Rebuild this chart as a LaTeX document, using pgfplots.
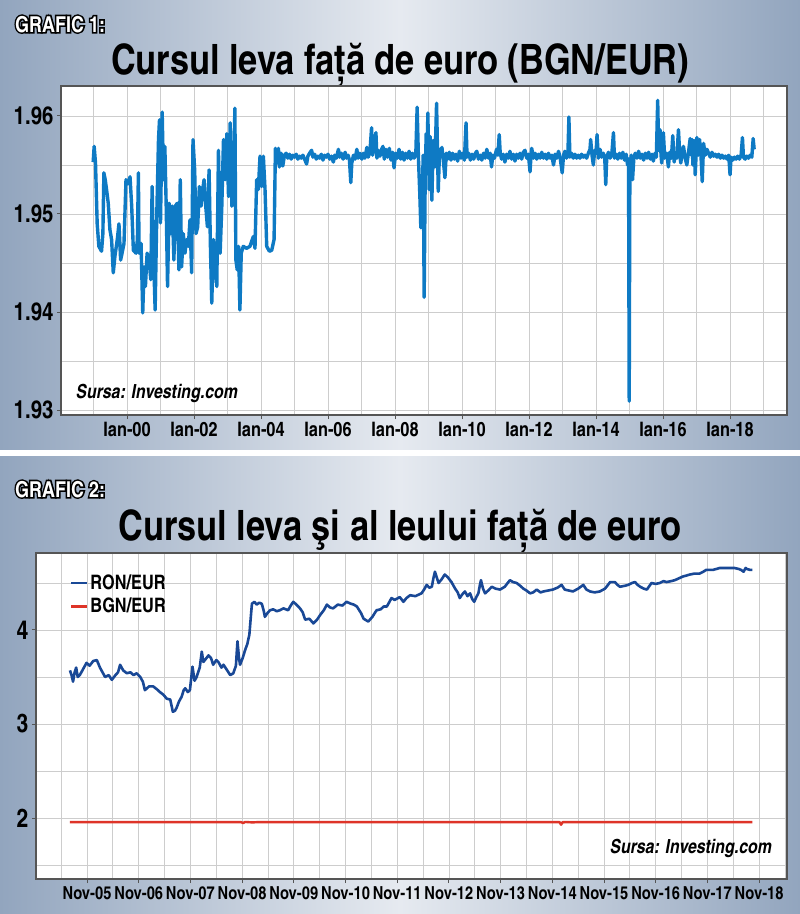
\documentclass[border=0pt]{standalone}
\usepackage{fontspec}
\setmainfont{texgyreheroscn}[Extension=.otf, UprightFont=*-regular, BoldFont=*-bold, ItalicFont=*-italic, BoldItalicFont=*-bolditalic]
\newfontface\grafout{texgyreheroscn-bold}[Extension=.otf, FakeBold=14]
\newfontface\grafin{texgyreheroscn-bold}[Extension=.otf]
\usepackage{pgfplots}
\pgfplotsset{compat=1.18}

\definecolor{bgedge}{RGB}{146,165,190}
\definecolor{bgmid}{RGB}{230,234,240}
\definecolor{bgnblue}{RGB}{14,122,196}
\definecolor{ronblue}{RGB}{25,72,150}
\definecolor{bgnred}{RGB}{222,52,40}
\definecolor{gridgray}{RGB}{205,205,205}
\definecolor{framegray}{RGB}{85,85,85}

\newcommand{\fs}[1]{\fontsize{#1}{#1}\selectfont}

% BGN/EUR, 1999-2018
\pgfplotstableread{
t v
1998.99 1.9553
1999.02 1.9569
1999.06 1.9552
1999.11 1.9490
1999.16 1.9467
1999.24 1.9462
1999.28 1.9480
1999.31 1.9542
1999.35 1.9535
1999.39 1.9525
1999.44 1.9511
1999.49 1.9484
1999.54 1.9474
1999.59 1.9440
1999.64 1.9457
1999.71 1.9474
1999.76 1.9490
1999.81 1.9453
1999.87 1.9463
1999.91 1.9470
1999.97 1.9535
2000.04 1.9531
2000.09 1.9538
2000.14 1.9508
2000.19 1.9463
2000.27 1.9460
2000.31 1.9474
2000.34 1.9542
2000.36 1.9460
2000.42 1.9470
2000.47 1.9399
2000.51 1.9446
2000.55 1.9426
2000.60 1.9460
2000.66 1.9453
2000.71 1.9433
2000.75 1.9528
2000.79 1.9460
2000.84 1.9402
2000.89 1.9501
2000.94 1.9576
2000.97 1.9596
2001.00 1.9491
2001.05 1.9604
2001.09 1.9535
2001.13 1.9569
2001.17 1.9508
2001.21 1.9426
2001.26 1.9511
2001.31 1.9480
2001.35 1.9508
2001.40 1.9453
2001.44 1.9508
2001.50 1.9511
2001.55 1.9443
2001.59 1.9535
2001.63 1.9446
2001.68 1.9480
2001.73 1.9460
2001.78 1.9474
2001.83 1.9467
2001.88 1.9494
2001.93 1.9440
2001.97 1.9576
2002.02 1.9545
2002.06 1.9480
2002.11 1.9487
2002.16 1.9528
2002.21 1.9508
2002.26 1.9525
2002.30 1.9535
2002.35 1.9508
2002.40 1.9487
2002.45 1.9545
2002.49 1.9467
2002.53 1.9409
2002.58 1.9474
2002.63 1.9446
2002.68 1.9426
2002.73 1.9565
2002.78 1.9460
2002.83 1.9508
2002.88 1.9576
2002.93 1.9535
2002.98 1.9582
2003.03 1.9518
2003.08 1.9593
2003.13 1.9508
2003.17 1.9518
2003.22 1.9608
2003.25 1.9453
2003.29 1.9443
2003.33 1.9467
2003.37 1.9402
2003.41 1.9460
2003.47 1.9467
2003.57 1.9465
2003.67 1.9467
2003.77 1.9477
2003.82 1.9465
2003.87 1.9535
2003.92 1.9525
2003.97 1.9559
2004.02 1.9528
2004.07 1.9559
2004.12 1.9525
2004.17 1.9467
2004.25 1.9462
2004.32 1.9463
2004.39 1.9474
2004.43 1.9567
2004.49 1.9552
2004.52 1.9567
2004.55 1.9548
2004.60 1.9562
2004.65 1.9549
2004.70 1.9560
2004.75 1.9562
2004.80 1.9557
2004.85 1.9561
2004.90 1.9556
2004.95 1.9560
2005.00 1.9558
2005.05 1.9561
2005.10 1.9556
2005.15 1.9559
2005.20 1.9557
2005.25 1.9560
2005.30 1.9556
2005.36 1.9551
2005.40 1.9559
2005.45 1.9562
2005.51 1.9565
2005.55 1.9558
2005.60 1.9561
2005.65 1.9556
2005.70 1.9559
2005.75 1.9557
2005.80 1.9561
2005.85 1.9555
2005.90 1.9560
2005.95 1.9558
2006.00 1.9561
2006.05 1.9556
2006.10 1.9559
2006.16 1.9553
2006.20 1.9560
2006.25 1.9557
2006.31 1.9566
2006.35 1.9558
2006.40 1.9562
2006.45 1.9556
2006.51 1.9563
2006.55 1.9557
2006.60 1.9560
2006.64 1.9555
2006.68 1.9532
2006.71 1.9552
2006.76 1.9560
2006.81 1.9556
2006.86 1.9566
2006.90 1.9557
2006.95 1.9562
2007.01 1.9556
2007.05 1.9562
2007.10 1.9557
2007.16 1.9568
2007.20 1.9558
2007.25 1.9563
2007.30 1.9588
2007.33 1.9560
2007.37 1.9566
2007.43 1.9583
2007.46 1.9557
2007.50 1.9565
2007.55 1.9559
2007.60 1.9566
2007.64 1.9569
2007.68 1.9556
2007.73 1.9566
2007.78 1.9558
2007.83 1.9567
2007.88 1.9555
2007.93 1.9563
2007.97 1.9547
2008.02 1.9562
2008.07 1.9557
2008.12 1.9566
2008.17 1.9556
2008.22 1.9563
2008.27 1.9555
2008.32 1.9562
2008.37 1.9557
2008.42 1.9564
2008.47 1.9556
2008.52 1.9562
2008.57 1.9557
2008.62 1.9561
2008.66 1.9609
2008.70 1.9556
2008.74 1.9520
2008.77 1.9486
2008.80 1.9494
2008.84 1.9560
2008.87 1.9415
2008.90 1.9535
2008.93 1.9582
2008.96 1.9565
2008.98 1.9603
2009.02 1.9525
2009.05 1.9579
2009.10 1.9514
2009.14 1.9575
2009.19 1.9548
2009.24 1.9613
2009.27 1.9562
2009.29 1.9523
2009.33 1.9566
2009.36 1.9558
2009.40 1.9568
2009.44 1.9555
2009.49 1.9537
2009.53 1.9562
2009.57 1.9556
2009.62 1.9563
2009.67 1.9555
2009.72 1.9562
2009.77 1.9556
2009.82 1.9561
2009.87 1.9554
2009.92 1.9564
2009.97 1.9557
2010.02 1.9562
2010.07 1.9555
2010.12 1.9593
2010.15 1.9558
2010.20 1.9562
2010.25 1.9555
2010.30 1.9561
2010.35 1.9556
2010.40 1.9562
2010.44 1.9564
2010.49 1.9556
2010.54 1.9560
2010.59 1.9555
2010.64 1.9562
2010.69 1.9557
2010.74 1.9566
2010.79 1.9557
2010.84 1.9562
2010.88 1.9548
2010.92 1.9560
2010.97 1.9557
2011.03 1.9566
2011.07 1.9560
2011.11 1.9581
2011.14 1.9562
2011.18 1.9556
2011.23 1.9561
2011.28 1.9553
2011.33 1.9561
2011.38 1.9557
2011.43 1.9564
2011.48 1.9556
2011.53 1.9561
2011.58 1.9554
2011.63 1.9561
2011.68 1.9557
2011.73 1.9562
2011.78 1.9556
2011.83 1.9563
2011.88 1.9565
2011.93 1.9557
2011.98 1.9561
2012.03 1.9543
2012.06 1.9560
2012.08 1.9567
2012.13 1.9557
2012.18 1.9562
2012.23 1.9556
2012.28 1.9561
2012.33 1.9557
2012.38 1.9563
2012.43 1.9557
2012.48 1.9561
2012.53 1.9556
2012.58 1.9562
2012.63 1.9557
2012.68 1.9560
2012.73 1.9550
2012.78 1.9561
2012.83 1.9557
2012.88 1.9564
2012.93 1.9557
2012.99 1.9542
2013.03 1.9560
2013.07 1.9564
2013.12 1.9557
2013.16 1.9561
2013.19 1.9599
2013.22 1.9558
2013.27 1.9562
2013.32 1.9557
2013.37 1.9561
2013.42 1.9557
2013.47 1.9560
2013.52 1.9557
2013.57 1.9561
2013.62 1.9558
2013.67 1.9560
2013.72 1.9557
2013.77 1.9562
2013.82 1.9566
2013.84 1.9576
2013.88 1.9560
2013.92 1.9550
2013.96 1.9565
2014.00 1.9562
2014.03 1.9581
2014.07 1.9557
2014.12 1.9566
2014.17 1.9558
2014.22 1.9562
2014.26 1.9557
2014.29 1.9530
2014.32 1.9558
2014.37 1.9563
2014.42 1.9557
2014.47 1.9561
2014.52 1.9583
2014.55 1.9557
2014.60 1.9561
2014.65 1.9556
2014.70 1.9562
2014.75 1.9557
2014.80 1.9563
2014.85 1.9555
2014.90 1.9561
2014.94 1.9550
2014.97 1.9556
2014.99 1.9309
2015.01 1.9548
2015.05 1.9560
2015.09 1.9535
2015.13 1.9558
2015.17 1.9562
2015.22 1.9557
2015.27 1.9564
2015.32 1.9557
2015.37 1.9561
2015.42 1.9555
2015.47 1.9562
2015.52 1.9557
2015.57 1.9563
2015.62 1.9556
2015.67 1.9561
2015.71 1.9554
2015.76 1.9562
2015.80 1.9558
2015.84 1.9616
2015.87 1.9565
2015.91 1.9586
2015.94 1.9560
2015.96 1.9552
2016.01 1.9583
2016.05 1.9557
2016.11 1.9562
2016.16 1.9548
2016.20 1.9563
2016.25 1.9557
2016.29 1.9580
2016.33 1.9553
2016.37 1.9561
2016.41 1.9557
2016.46 1.9586
2016.50 1.9560
2016.53 1.9552
2016.57 1.9563
2016.61 1.9569
2016.66 1.9557
2016.71 1.9550
2016.76 1.9563
2016.81 1.9577
2016.84 1.9560
2016.87 1.9576
2016.89 1.9550
2016.93 1.9575
2016.96 1.9540
2017.01 1.9578
2017.05 1.9560
2017.09 1.9576
2017.13 1.9561
2017.17 1.9533
2017.21 1.9572
2017.26 1.9560
2017.31 1.9566
2017.36 1.9562
2017.41 1.9558
2017.46 1.9563
2017.51 1.9559
2017.56 1.9561
2017.61 1.9558
2017.66 1.9561
2017.71 1.9557
2017.76 1.9560
2017.81 1.9557
2017.86 1.9559
2017.91 1.9556
2017.96 1.9560
2018.00 1.9540
2018.03 1.9558
2018.08 1.9555
2018.13 1.9558
2018.18 1.9556
2018.23 1.9559
2018.28 1.9556
2018.33 1.9560
2018.37 1.9578
2018.40 1.9558
2018.45 1.9556
2018.50 1.9559
2018.55 1.9557
2018.60 1.9560
2018.65 1.9558
2018.69 1.9577
2018.72 1.9566
}\bgneur

% RON/EUR, x = years (Nov-05 = 5)
\pgfplotstableread{
t v
4.67 3.57
4.70 3.52
4.73 3.45
4.76 3.55
4.79 3.60
4.82 3.50
4.86 3.52
4.92 3.58
4.99 3.65
5.05 3.62
5.12 3.67
5.19 3.68
5.25 3.60
5.30 3.55
5.35 3.50
5.42 3.52
5.48 3.47
5.55 3.52
5.60 3.55
5.64 3.63
5.70 3.57
5.77 3.54
5.84 3.55
5.90 3.52
5.96 3.54
6.03 3.50
6.08 3.45
6.12 3.36
6.20 3.40
6.28 3.40
6.35 3.37
6.41 3.34
6.48 3.31
6.54 3.27
6.61 3.26
6.66 3.13
6.70 3.14
6.73 3.17
6.78 3.24
6.83 3.29
6.87 3.36
6.90 3.38
6.95 3.34
6.99 3.36
7.04 3.61
7.08 3.46
7.12 3.50
7.18 3.60
7.22 3.77
7.25 3.66
7.28 3.68
7.35 3.73
7.40 3.70
7.44 3.63
7.50 3.68
7.54 3.66
7.60 3.60
7.64 3.63
7.70 3.58
7.77 3.52
7.83 3.54
7.88 3.62
7.91 3.88
7.94 3.70
7.96 3.63
8.01 3.70
8.06 3.79
8.10 3.85
8.14 3.95
8.17 4.15
8.19 4.28
8.24 4.30
8.28 4.27
8.33 4.29
8.38 4.28
8.42 4.20
8.44 4.14
8.49 4.18
8.54 4.21
8.60 4.22
8.67 4.20
8.73 4.21
8.80 4.23
8.89 4.21
8.94 4.26
8.99 4.30
9.05 4.27
9.12 4.23
9.17 4.19
9.22 4.11
9.30 4.12
9.38 4.07
9.45 4.11
9.51 4.16
9.58 4.21
9.64 4.27
9.70 4.24
9.76 4.23
9.85 4.27
9.94 4.26
10.02 4.30
10.10 4.28
10.16 4.27
10.22 4.25
10.30 4.18
10.35 4.12
10.44 4.09
10.52 4.14
10.60 4.21
10.68 4.22
10.74 4.25
10.80 4.25
10.85 4.30
10.89 4.34
10.95 4.32
11.05 4.35
11.12 4.30
11.18 4.34
11.25 4.37
11.35 4.36
11.47 4.39
11.52 4.43
11.57 4.48
11.62 4.45
11.67 4.46
11.70 4.55
11.73 4.62
11.77 4.55
11.80 4.50
11.86 4.54
11.92 4.59
11.98 4.56
12.05 4.51
12.12 4.44
12.17 4.40
12.21 4.34
12.26 4.38
12.31 4.41
12.36 4.36
12.41 4.39
12.45 4.33
12.49 4.30
12.53 4.35
12.57 4.39
12.60 4.48
12.62 4.53
12.66 4.44
12.70 4.39
12.76 4.42
12.83 4.46
12.90 4.44
12.99 4.43
13.08 4.46
13.18 4.53
13.24 4.51
13.31 4.50
13.38 4.47
13.44 4.44
13.50 4.42
13.57 4.39
13.63 4.40
13.70 4.43
13.77 4.40
13.83 4.41
13.92 4.42
14.01 4.43
14.10 4.45
14.18 4.48
14.24 4.43
14.32 4.42
14.40 4.41
14.50 4.44
14.60 4.48
14.66 4.43
14.73 4.41
14.82 4.40
14.92 4.41
15.02 4.44
15.12 4.51
15.21 4.51
15.26 4.48
15.31 4.46
15.40 4.47
15.47 4.48
15.54 4.50
15.60 4.51
15.65 4.48
15.70 4.46
15.77 4.44
15.83 4.43
15.88 4.47
15.92 4.50
16.00 4.49
16.08 4.50
16.15 4.52
16.21 4.51
16.30 4.52
16.37 4.53
16.45 4.55
16.53 4.57
16.60 4.58
16.66 4.59
16.75 4.60
16.85 4.60
16.92 4.62
16.98 4.64
17.05 4.64
17.11 4.64
17.18 4.65
17.24 4.66
17.34 4.66
17.44 4.66
17.52 4.66
17.60 4.65
17.65 4.64
17.70 4.62
17.74 4.66
17.76 4.65
17.82 4.64
17.87 4.64
}\roneur

\pgfplotstableread{
t v
4.67 1.956
7.98 1.956
8.02 1.947
8.06 1.958
8.20 1.953
8.30 1.956
14.14 1.956
14.17 1.928
14.20 1.956
17.87 1.956
}\bgnsmall

\pgfplotsset{
  panel/.style={
    scale only axis,
    axis background/.style={fill=white},
    axis line style={framegray, line width=1.2bp},
    grid=both,
    major grid style={gridgray, line width=0.8bp},
    minor grid style={gridgray, line width=0.8bp},
    tick align=outside,
    major tick length=4bp,
    minor tick length=0pt,
    tick style={framegray, line width=1bp},
    xtick pos=bottom, ytick pos=left,
    /pgf/number format/assume math mode=true,
  }
}

\begin{document}
\begin{tikzpicture}
\useasboundingbox (0,0) rectangle (800bp,-914bp);
\shade[left color=bgedge, right color=bgedge, middle color=bgmid] (0,0) rectangle (800bp,-450bp);
\fill[white] (0,-450bp) rectangle (800bp,-456bp);
\shade[left color=bgedge, right color=bgedge, middle color=bgmid] (0,-456bp) rectangle (800bp,-914bp);

% headings: white text with a black outline
\foreach \hy/\hn in {-32/1,-497/2} {
  \node[anchor=base west, inner sep=0, font=\grafout\fs{22}] at (15bp,\hy bp) {GRAFIC \hn:};
  \node[anchor=base west, inner sep=0, font=\grafin\fs{22}, text=white] at (15bp,\hy bp) {GRAFIC \hn:};
}
\node[anchor=base, inner sep=0, font=\bfseries\fs{42}] at (400bp,-74bp) {Cursul leva față de euro (BGN/EUR)};
\node[anchor=base, inner sep=0, font=\bfseries\fs{42}] at (400bp,-540bp) {Cursul leva şi al leului față de euro};

\begin{axis}[panel,
  at={(61bp,-415bp)}, anchor=south west,
  width=726bp, height=329bp,
  xmin=1998.03, xmax=2019.70, ymin=1.92949, ymax=1.96306,
  xtick={2000,2002,...,2018},
  xticklabels={Ian-00,Ian-02,Ian-04,Ian-06,Ian-08,Ian-10,Ian-12,Ian-14,Ian-16,Ian-18},
  minor xtick={1999,2001,...,2019},
  ytick={1.93,1.94,1.95,1.96},
  yticklabels={1.93,1.94,1.95,1.96},
  minor ytick={1.935,1.945,1.955},
  xticklabel style={font=\bfseries\fs{20}},
  yticklabel style={font=\bfseries\fs{25}},
]
\addplot[bgnblue, line width=3.4bp, line join=round, no marks] table[x=t, y=v] {\bgneur};
\end{axis}
\node[anchor=west, inner sep=0, font=\bfseries\itshape\fs{19.5}] at (76bp,-393bp) {Sursa: Investing.com};

\begin{axis}[panel,
  at={(36bp,-879bp)}, anchor=south west,
  width=751bp, height=326bp,
  xmin=4.013, xmax=18.54, ymin=1.351, ymax=4.819,
  xtick={5,...,18},
  xticklabels={Nov-05,Nov-06,Nov-07,Nov-08,Nov-09,Nov-10,Nov-11,Nov-12,Nov-13,Nov-14,Nov-15,Nov-16,Nov-17,Nov-18},
  minor xtick={4.5,5.5,...,18.5},
  ytick={2,3,4},
  minor ytick={1.5,2.5,3.5,4.5},
  xticklabel style={font=\bfseries\fs{18}},
  yticklabel style={font=\bfseries\fs{26}},
  legend style={at={(0.041,0.945)}, anchor=north west, draw=none, fill=none,
    font=\bfseries\fs{20}, row sep=3bp},
  legend cell align=left,
  legend image code/.code={\draw[#1, line width=2.5bp] (0bp,0bp) -- (16bp,0bp);},
]
\addplot[ronblue, line width=2.6bp, line join=round, no marks] table[x=t, y=v] {\roneur};
\addlegendentry{RON/EUR}
\addplot[bgnred, line width=2.4bp, line join=round, no marks] table[x=t, y=v] {\bgnsmall};
\addlegendentry{BGN/EUR}
\end{axis}
\node[anchor=east, inner sep=0, font=\bfseries\itshape\fs{19.5}] at (772bp,-848bp) {Sursa: Investing.com};
\end{tikzpicture}
\end{document}
